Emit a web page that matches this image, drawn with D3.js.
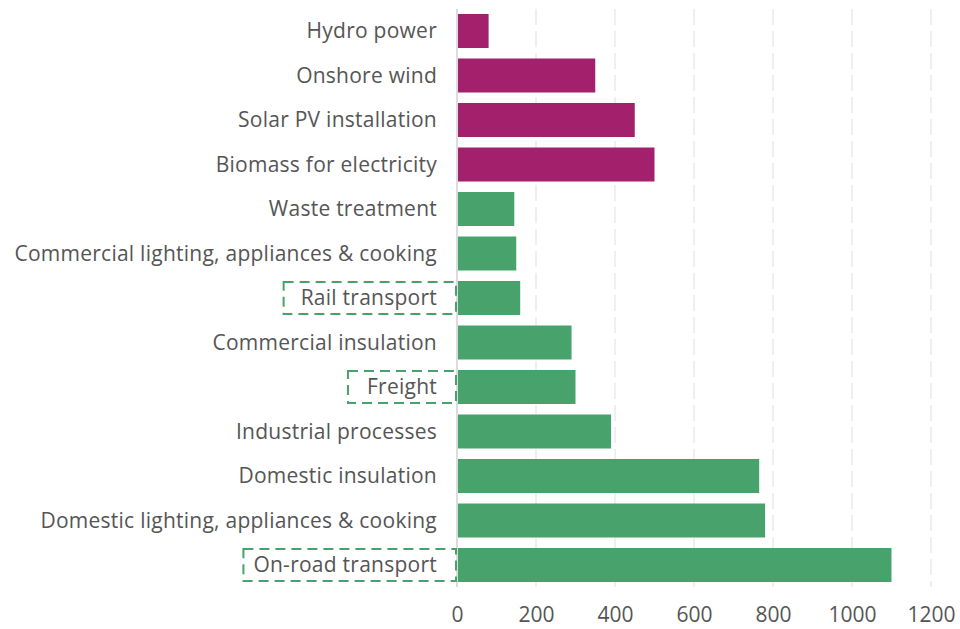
<!DOCTYPE html>
<html><head><meta charset="utf-8">
<script src="https://cdn.jsdelivr.net/npm/d3@7"></script>
<style>body{margin:0;background:#fff}svg{display:block}text{font-family:"Open Sans",sans-serif}</style>
</head><body>
<svg id="chart" width="960" height="629"></svg>
<script>
const categories = ["Hydro power","Onshore wind","Solar PV installation","Biomass for electricity","Waste treatment","Commercial lighting, appliances & cooking","Rail transport","Commercial insulation","Freight","Industrial processes","Domestic insulation","Domestic lighting, appliances & cooking","On-road transport"];
const values = [80,350,450,500,145,150,160,290,300,390,765,780,1100];
const groups = ["supply","supply","supply","supply","demand","demand","demand","demand","demand","demand","demand","demand","demand"];
const highlighted = ["Rail transport","Freight","On-road transport"];
const tickValues = [0,200,400,600,800,1000,1200];
const colors = {supply:"#a3206c", demand:"#47a36b"};

const svg = d3.select("#chart");
const x = d3.scaleLinear().domain([0,1200]).range([457,931]);
const y = d3.scaleBand().domain(categories).range([8.75,587.25]).paddingInner(0.236).paddingOuter(0.118);

// gridlines
svg.append("g").selectAll("line").data(tickValues.slice(1)).join("line")
  .attr("x1",d=>x(d)).attr("x2",d=>x(d)).attr("y1",9).attr("y2",587)
  .attr("stroke","#efefef").attr("stroke-width",2).attr("stroke-dasharray","16,6");

// bars
svg.append("g").selectAll("rect").data(categories).join("rect")
  .attr("x",x(0)+1).attr("y",d=>y(d))
  .attr("width",(d,i)=>x(values[i])-x(0)-1).attr("height",y.bandwidth())
  .attr("fill",(d,i)=>colors[groups[i]]);

// axis line
svg.append("line").attr("x1",x(0)).attr("x2",x(0)).attr("y1",9).attr("y2",587)
  .attr("stroke","#dcdcdc").attr("stroke-width",2);

// x axis labels
const xAxis = d3.axisBottom(x).tickValues(tickValues).tickSize(0).tickPadding(0).tickFormat(d3.format("d"));
const gx = svg.append("g").attr("transform","translate(0,607)").call(xAxis);
gx.select(".domain").remove();
gx.selectAll(".tick text").attr("font-size",21).attr("fill","#555")
  .attr("font-family","Open Sans, sans-serif");

// category labels
const gl = svg.append("g");
gl.selectAll("text").data(categories).join("text")
  .attr("x",437).attr("y",d=>y(d)+y.bandwidth()/2).attr("dy","0.35em")
  .attr("text-anchor","end").attr("font-size",21).attr("letter-spacing","0.25px").attr("fill","#555").text(d=>d);

// dashed boxes for highlighted
const padLeft = {"Rail transport":17,"Freight":19,"On-road transport":10};
gl.selectAll("text").each(function(d){
  if(!highlighted.includes(d)) return;
  const w = this.getComputedTextLength();
  const cy = y(d)+y.bandwidth()/2;
  svg.append("rect").attr("x",437-w-padLeft[d]).attr("y",cy-16).attr("width",w+padLeft[d]+19).attr("height",32)
    .attr("fill","none").attr("stroke","#47a36b").attr("stroke-width",2).attr("stroke-dasharray","10,6");
});
</script>
</body></html>
